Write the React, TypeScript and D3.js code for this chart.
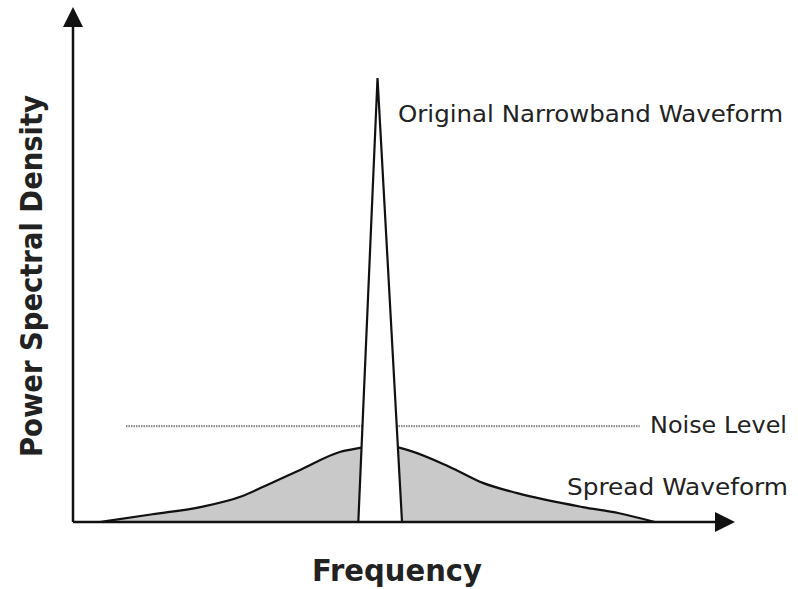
import React from "react";
import * as d3 from "d3";

const spreadFreq = [4.1, 12.0, 19.2, 25.5, 29.0, 34.3, 40.3, 43.4, 46.4, 49.4, 56.9, 61.9, 67.1, 77.0, 82.5, 87.9];
const spreadPsd = [0, 1.5, 2.9, 5.0, 7.0, 10.1, 13.6, 14.4, 15.0, 14.4, 10.7, 7.6, 5.6, 2.9, 1.7, 0];
const narrowFreq = [43.1, 46.0, 49.7];
const narrowPsd = [0, 86.2, 0];
const noiseLevel = 18.6;
const noiseRange = [8.0, 85.6];

const W = 798, H = 589;

export default function App() {
  const x = d3.scaleLinear().domain([0, 100]).range([73, 735]);
  const y = d3.scaleLinear().domain([0, 100]).range([522, 7]);
  const spread = spreadFreq.map((f, i) => [f, spreadPsd[i]] as [number, number]);
  const narrow = narrowFreq.map((f, i) => [f, narrowPsd[i]] as [number, number]);
  const areaGen = d3.area<[number, number]>().x(d => x(d[0])).y0(y(0)).y1(d => y(d[1])).curve(d3.curveMonotoneX);
  const lineGen = d3.line<[number, number]>().x(d => x(d[0])).y(d => y(d[1])).curve(d3.curveMonotoneX);
  const narrowLine = d3.line<[number, number]>().x(d => x(d[0])).y(d => y(d[1]));
  const x0 = x(0), y0 = y(0), xEnd = x(100), yTop = y(100);
  const font = "'DejaVu Sans', Arial, sans-serif";
  return (
    <svg width={W} height={H} style={{ position: "absolute", left: 0, top: 0, background: "#fff" }}>
      <path d={areaGen(spread) || ""} fill="#c9c9c9" />
      <path d={lineGen(spread) || ""} fill="none" stroke="#111" strokeWidth={2.2} />
      <line x1={x(noiseRange[0])} x2={x(noiseRange[1])} y1={y(noiseLevel)} y2={y(noiseLevel)} stroke="#8a8a8a" strokeWidth={2.2} strokeDasharray="1.5,1" />
      <path d={(narrowLine(narrow) || "") + "Z"} fill="#fff" stroke="#111" strokeWidth={2.2} strokeLinejoin="miter" />
      {/* axes */}
      <line x1={x0} x2={xEnd - 18} y1={y0} y2={y0} stroke="#111" strokeWidth={2.5} />
      <line x1={x0} x2={x0} y1={y0} y2={yTop + 18} stroke="#111" strokeWidth={2.5} />
      <path d={`M${xEnd},${y0} L${xEnd - 20},${y0 - 10} L${xEnd - 20},${y0 + 10} Z`} fill="#111" />
      <path d={`M${x0},${yTop} L${x0 - 10},${yTop + 20} L${x0 + 10},${yTop + 20} Z`} fill="#111" />
      <text x={398} y={122} fontFamily={font} fontSize={23} fill="#222" textLength={385} lengthAdjust="spacingAndGlyphs">Original Narrowband Waveform</text>
      <text x={650} y={433} fontFamily={font} fontSize={23} fill="#222" textLength={137} lengthAdjust="spacingAndGlyphs">Noise Level</text>
      <text x={567} y={495} fontFamily={font} fontSize={23} fill="#222" textLength={221} lengthAdjust="spacingAndGlyphs">Spread Waveform</text>
      <text x={312} y={581} fontFamily={font} fontSize={30} fontWeight="bold" fill="#222" textLength={170} lengthAdjust="spacingAndGlyphs">Frequency</text>
      <text transform={`translate(42,457) rotate(-90)`} fontFamily={font} fontSize={30} fontWeight="bold" fill="#222" textLength={362} lengthAdjust="spacingAndGlyphs">Power Spectral Density</text>
    </svg>
  );
}
